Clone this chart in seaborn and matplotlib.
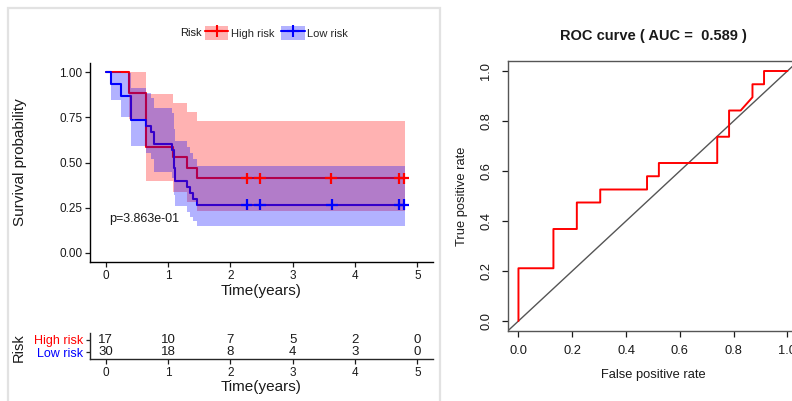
import pandas as pd
import seaborn as sns
import matplotlib.pyplot as plt
from matplotlib.patches import Patch, Rectangle
from matplotlib.lines import Line2D

# === Kaplan-Meier curves ===
high_time = [0, 0.37, 0.65, 1.08, 1.30, 1.46, 4.80]
high_surv = [1.0, 0.882, 0.588, 0.529, 0.471, 0.412, 0.412]
high_lower = [1.0, 0.742, 0.395, 0.338, 0.284, 0.233, 0.233]
high_upper = [1.0, 1.0, 0.876, 0.829, 0.779, 0.727, 0.727]

low_time = [0, 0.08, 0.25, 0.40, 0.64, 0.73, 0.78, 1.06, 1.10, 1.12, 1.30, 1.36, 1.40, 1.47, 4.80]
low_surv = [1.0, 0.933, 0.867, 0.733, 0.700, 0.667, 0.600, 0.567, 0.467, 0.400, 0.367, 0.333, 0.300, 0.267, 0.267]
low_lower = [1.0, 0.848, 0.753, 0.591, 0.554, 0.518, 0.448, 0.414, 0.318, 0.258, 0.229, 0.201, 0.174, 0.147, 0.147]
low_upper = [1.0, 1.0, 0.997, 0.910, 0.885, 0.859, 0.804, 0.775, 0.684, 0.620, 0.587, 0.553, 0.518, 0.483, 0.483]

high_censor = [2.26, 2.48, 3.61, 4.71, 4.78]
low_censor = [2.26, 2.48, 3.63, 4.71, 4.78]

# === number at risk table ===
risk_times = [0, 1, 2, 3, 4, 5]
high_at_risk = [17, 10, 7, 5, 2, 0]
low_at_risk = [30, 18, 8, 4, 3, 0]

# === ROC curve ===
roc_fpr = [0.0, 0.0, 0.130, 0.130, 0.217, 0.217, 0.304, 0.304, 0.478, 0.478, 0.522, 0.522,
           0.739, 0.739, 0.783, 0.783, 0.826, 0.870, 0.870, 0.913, 0.913, 1.0]
roc_tpr = [0.0, 0.211, 0.211, 0.368, 0.368, 0.474, 0.474, 0.526, 0.526, 0.579, 0.579, 0.632,
           0.632, 0.737, 0.737, 0.842, 0.842, 0.895, 0.947, 0.947, 1.0, 1.0]
auc_value = 0.589

RED = "#FF0000"
BLUE = "#0000FF"
TXT = "#1a1a1a"
palette = {"High risk": RED, "Low risk": BLUE}

sns.set_style("ticks")
plt.rcParams["font.family"] = ["Liberation Sans", "DejaVu Sans"]
plt.rcParams["axes.linewidth"] = 1.0

W, H = 792, 401
fig = plt.figure(figsize=(W / 100, H / 100), dpi=100)


def fbox(x0, y0, x1, y1):
    # pixel box (top-left origin) -> figure fraction rect
    return [x0 / W, 1 - y1 / H, (x1 - x0) / W, (y1 - y0) / H]


# light frame around the survival panel
fig.patches.append(Rectangle((8 / W, -0.02), (440 - 8) / W, 1 - 8 / H + 0.02,
                             transform=fig.transFigure, fill=False,
                             edgecolor="#e2e2e2", lw=1.6))

# ---------- KM plot ----------
ax_km = fig.add_axes(fbox(90, 63, 433, 262))
km = pd.concat([
    pd.DataFrame({"time": high_time, "surv": high_surv, "group": "High risk"}),
    pd.DataFrame({"time": low_time, "surv": low_surv, "group": "Low risk"}),
])
sns.lineplot(data=km, x="time", y="surv", hue="group", palette=palette,
             drawstyle="steps-post", estimator=None, sort=False, lw=1.5,
             legend=False, ax=ax_km, zorder=2)
ax_km.fill_between(high_time, high_lower, high_upper, step="post", color=RED,
                   alpha=0.3, lw=0, zorder=3)
ax_km.fill_between(low_time, low_lower, low_upper, step="post", color=BLUE,
                   alpha=0.3, lw=0, zorder=3)
cens = pd.concat([
    pd.DataFrame({"time": high_censor, "surv": high_surv[-1], "group": "High risk"}),
    pd.DataFrame({"time": low_censor, "surv": low_surv[-1], "group": "Low risk"}),
])
sns.scatterplot(data=cens, x="time", y="surv", hue="group", palette=palette,
                marker="+", s=70, linewidth=1.6, legend=False, ax=ax_km, zorder=4)
ax_km.text(0.05, 0.19, "p=3.863e-01", fontsize=9, color=TXT, va="center")

ax_km.set_xlim(-0.25, 5.25)
ax_km.set_ylim(-0.05, 1.05)
ax_km.set_xticks(risk_times)
ax_km.set_yticks([0, 0.25, 0.5, 0.75, 1.0])
ax_km.set_yticklabels(["0.00", "0.25", "0.50", "0.75", "1.00"])
ax_km.set_xlabel("Time(years)", fontsize=11, color=TXT, labelpad=2)
ax_km.set_ylabel("Survival probability", fontsize=11, color=TXT)
ax_km.yaxis.set_label_coords(-0.183, 0.5)
sns.despine(ax=ax_km)
for s in ("left", "bottom"):
    ax_km.spines[s].set_color("black")
ax_km.tick_params(labelsize=8.5, colors=TXT, length=3.5, width=0.9, pad=2)

# legend (title drawn to the left like ggplot)
fig.text(180 / W, 1 - 33 / H, "Risk", fontsize=8, color=TXT, va="center")
handles = [
    (Patch(facecolor=RED, alpha=0.3, lw=0), Line2D([], [], color=RED, lw=1.5, marker="+", ms=8, mew=1.5)),
    (Patch(facecolor=BLUE, alpha=0.3, lw=0), Line2D([], [], color=BLUE, lw=1.5, marker="+", ms=8, mew=1.5)),
]
fig.legend(handles, ["High risk", "Low risk"], loc="center left",
           bbox_to_anchor=(205 / W, 1 - 33 / H), ncol=2, frameon=False,
           fontsize=8, handlelength=2.1, handleheight=1.5, handletextpad=0.25,
           columnspacing=0.6, borderpad=0, borderaxespad=0)

# ---------- risk table ----------
ax_rt = fig.add_axes(fbox(90, 333, 433, 359))
ax_rt.set_xlim(-0.25, 5.25)
ax_rt.set_ylim(-0.58, 1.58)
for t, n_hi, n_lo in zip(risk_times, high_at_risk, low_at_risk):
    ax_rt.text(t, 1, str(n_hi), ha="center", va="center", fontsize=9.5, color=TXT)
    ax_rt.text(t, 0, str(n_lo), ha="center", va="center", fontsize=9.5, color=TXT)
ax_rt.set_xticks(risk_times)
ax_rt.set_yticks([1, 0])
ax_rt.set_yticklabels(["High risk", "Low risk"])
for lab, c in zip(ax_rt.get_yticklabels(), [RED, BLUE]):
    lab.set_color(c)
    lab.set_fontsize(9)
ax_rt.set_xlabel("Time(years)", fontsize=11, color=TXT, labelpad=1)
ax_rt.set_ylabel("Risk", fontsize=10.5, color=TXT)
ax_rt.yaxis.set_label_coords(-0.186, 0.45)
sns.despine(ax=ax_rt)
ax_rt.tick_params(axis="x", labelsize=8.5, colors=TXT, length=3.5, width=0.9, pad=2)
ax_rt.tick_params(axis="y", length=3, width=0.9, pad=2)

# ---------- ROC plot ----------
ax_roc = fig.add_axes(fbox(507.7, 61, 798.2, 331))
sns.lineplot(x=roc_fpr, y=roc_tpr, sort=False, estimator=None, color=RED,
             lw=1.4, ax=ax_roc, zorder=3)
ax_roc.axline((0, 0), slope=1, color="#555555", lw=1.0, zorder=2)
ax_roc.set_xlim(-0.04, 1.04)
ax_roc.set_ylim(-0.04, 1.04)
ticks = [0.0, 0.2, 0.4, 0.6, 0.8, 1.0]
ax_roc.set_xticks(ticks)
ax_roc.set_yticks(ticks)
ax_roc.set_xticklabels([f"{v:.1f}" for v in ticks])
ax_roc.set_yticklabels([f"{v:.1f}" for v in ticks], rotation=90, va="center")
for s in ax_roc.spines.values():
    s.set_color("#555555")
    s.set_linewidth(1.0)
ax_roc.tick_params(labelsize=9.3, colors=TXT, length=4, width=0.9, pad=6)
ax_roc.tick_params(axis="y", pad=7)
ax_roc.set_xlabel("False positive rate", fontsize=9.3, color=TXT, labelpad=9)
ax_roc.set_ylabel("True positive rate", fontsize=9.3, color=TXT, labelpad=9)
ax_roc.set_title(f"ROC curve ( AUC =  {auc_value:.3f} )", fontsize=10.5,
                 fontweight="bold", color=TXT, pad=15)

fig.savefig("out.png", dpi=100)
plt.close(fig)
